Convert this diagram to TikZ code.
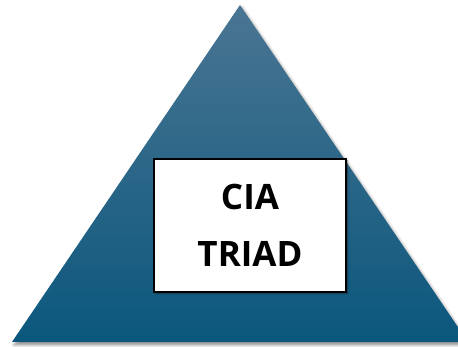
\documentclass[tikz,border=0pt]{standalone}
\usepackage{fontspec}
\setmainfont{Open Sans}
\usetikzlibrary{shadows.blur}
\definecolor{triTop}{HTML}{4A7592}
\definecolor{triMid}{HTML}{1E6387}
\definecolor{triBot}{HTML}{0B577D}
\tikzset{
  softshadow/.style={blur shadow={shadow xshift=2pt, shadow yshift=-3pt, shadow blur radius=3pt, shadow opacity=45}},
  labelbox/.style={draw=black, line width=1.3pt, fill=white, minimum width=192pt, minimum height=133pt,
    inner sep=0pt, align=center, font=\fontsize{35}{57}\selectfont\bfseries,
    blur shadow={shadow xshift=1.5pt, shadow yshift=-1.5pt, shadow blur radius=1.5pt, shadow opacity=40}}
}
\begin{document}
\begin{tikzpicture}[x=1pt,y=1pt]
  \useasboundingbox (0,0) rectangle (458,347);
  \begin{scope}
    \clip (0,0) rectangle (458,347);
    % pyramid with vertical gradient
    \path[softshadow, top color=triTop, middle color=triMid, bottom color=triBot]
      (240,342) -- (12,5) -- (468,5) -- cycle;
  \end{scope}
  \node[labelbox] (triad) at (250,121.5) {CIA\\TRIAD};
\end{tikzpicture}
\end{document}
